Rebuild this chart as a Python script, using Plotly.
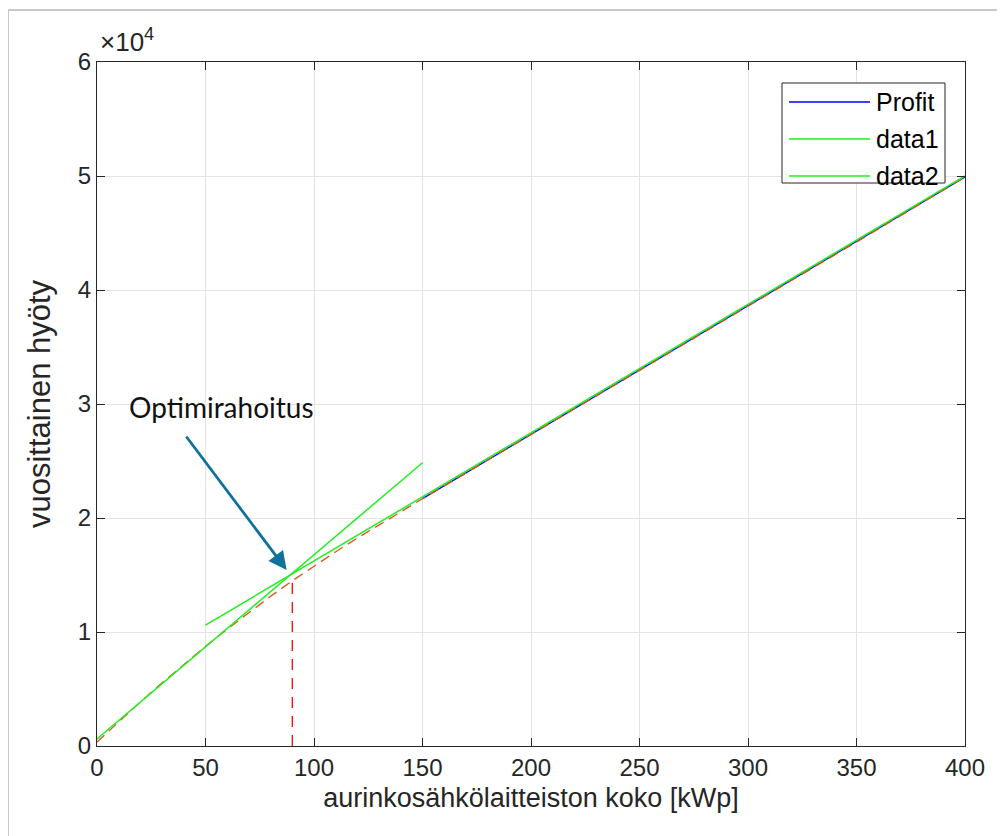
import plotly.graph_objects as go

# --- data ---
curve_x = [0, 10, 20, 30, 40, 50, 60, 70, 80, 90, 100, 110, 120, 130, 140, 150, 160, 175, 200, 250, 300, 350, 400]
curve_y = [350, 2130, 3870, 5540, 7170, 8740, 10250, 11720, 13130, 14490, 15790, 17040, 18240, 19410, 20560, 21690, 22815, 24500, 27320, 32950, 38580, 44210, 49900]

profit_x = [150, 175, 200, 250, 300, 350, 400]
profit_y = [21700, 24520, 27330, 32960, 38590, 44220, 49900]

data1_x = [0, 150]
data1_y = [614, 24850]

data2_x = [50, 400]
data2_y = [10600, 50000]

opt_x = [90, 90]
opt_y = [0, 14800]

series_names = ["Profit", "data1", "data2"]
series_colors = ["#0000ff", "#22ee22", "#22ee22"]

ytick_vals = [0, 10000, 20000, 30000, 40000, 50000, 60000]
ytick_text = ["0", "1", "2", "3", "4", "5", "6"]
xtick_vals = [0, 50, 100, 150, 200, 250, 300, 350, 400]

axis_col = "#262626"
font_fam = "Liberation Sans, Arial, sans-serif"

OFF = 8  # default page body margin
W, H = 1005 - OFF, 836 - OFF
# plot area in page pixels: left 97, right 965, top 62, bottom 746
L, T = 97 - OFF, 62 - OFF
R = W - (965 - OFF)
B = H - (746 - OFF)
PW, PH = W - L - R, H - T - B


def px_x(p):
    return (p - OFF - L) / PW


def px_y(p):
    return (H - B - (p - OFF)) / PH


fig = go.Figure()
fig.add_trace(go.Scatter(x=profit_x, y=profit_y, mode="lines", name=series_names[0], showlegend=False,
                         line=dict(color=series_colors[0], width=1.2)))
fig.add_trace(go.Scatter(x=curve_x, y=curve_y, mode="lines", showlegend=False,
                         line=dict(color="#D95319", width=1.3, dash="10px,6px")))
fig.add_trace(go.Scatter(x=data1_x, y=data1_y, mode="lines", name=series_names[1], showlegend=False,
                         line=dict(color=series_colors[1], width=1.5)))
fig.add_trace(go.Scatter(x=data2_x, y=data2_y, mode="lines", name=series_names[2], showlegend=False,
                         line=dict(color=series_colors[2], width=1.5)))
fig.add_trace(go.Scatter(x=opt_x, y=opt_y, mode="lines", showlegend=False,
                         line=dict(color="#ff0000", width=1.3, dash="11px,8px")))

fig.update_layout(
    width=W, height=H,
    margin=dict(l=L, r=R, t=T, b=B),
    paper_bgcolor="white", plot_bgcolor="white",
    font=dict(family=font_fam, color=axis_col, size=24),
    showlegend=False,
    xaxis=dict(range=[0, 400], tickvals=xtick_vals, showgrid=True, automargin=False,
               gridcolor="#e3e3e3", gridwidth=1, zeroline=False,
               showline=True, linecolor=axis_col, linewidth=1, mirror="allticks",
               ticks="inside", ticklen=8, tickcolor=axis_col,
               tickfont=dict(size=24),
               title=dict(text="aurinkosähkölaitteiston koko [kWp]", font=dict(size=27), standoff=8)),
    yaxis=dict(range=[0, 60000], tickvals=ytick_vals, ticktext=ytick_text, showgrid=True, automargin=False,
               gridcolor="#e3e3e3", gridwidth=1, zeroline=False,
               showline=True, linecolor=axis_col, linewidth=1, mirror="allticks",
               ticks="inside", ticklen=8, tickcolor=axis_col,
               tickfont=dict(size=24),
               title=dict(text="vuosittainen hyöty", font=dict(size=31), standoff=17)),
)

# manual legend (MATLAB style with long sample lines)
fig.add_shape(type="rect", xref="paper", yref="paper", x0=px_x(782), x1=px_x(945),
              y0=px_y(183), y1=px_y(83), line=dict(color=axis_col, width=1), fillcolor="white",
              layer="above")
for i, (nm, col) in enumerate(zip(series_names, series_colors)):
    yc = 102 + 37 * i
    fig.add_shape(type="line", xref="paper", yref="paper", x0=px_x(789), x1=px_x(870),
                  y0=px_y(yc), y1=px_y(yc), line=dict(color=col, width=1.3), layer="above")
    fig.add_annotation(xref="paper", yref="paper", x=px_x(874), y=px_y(yc), xanchor="left",
                       yanchor="middle", text=nm, showarrow=False,
                       font=dict(size=25, family=font_fam, color="#000000"))

# exponent label
fig.add_annotation(xref="paper", yref="paper", x=px_x(98), y=1.0, xanchor="left", yanchor="bottom",
                   text="×10<sup>4</sup>", showarrow=False, yshift=3,
                   font=dict(size=26, family=font_fam, color=axis_col))

# Optimirahoitus annotation with arrow
fig.add_annotation(x=87.4, y=15440, ax=40.6, ay=27280, xref="x", yref="y", axref="x", ayref="y",
                   text="", showarrow=True, arrowhead=2, arrowsize=1.3, arrowwidth=2.8,
                   arrowcolor="#10729a", standoff=0)
fig.add_annotation(x=57.6, y=29740, xref="x", yref="y", text="Optimirahoitus", showarrow=False,
                   font=dict(size=28, family="Lato, Open Sans, sans-serif", color="#111111"))

# outer figure frame (top and left)
fig.add_shape(type="line", xref="paper", yref="paper", x0=px_x(8), x1=px_x(1005),
              y0=px_y(10), y1=px_y(10), line=dict(color="#c8c8c8", width=2))
fig.add_shape(type="line", xref="paper", yref="paper", x0=px_x(8), x1=px_x(8),
              y0=px_y(10), y1=px_y(836), line=dict(color="#c8c8c8", width=2))

fig.write_html("out.html")
